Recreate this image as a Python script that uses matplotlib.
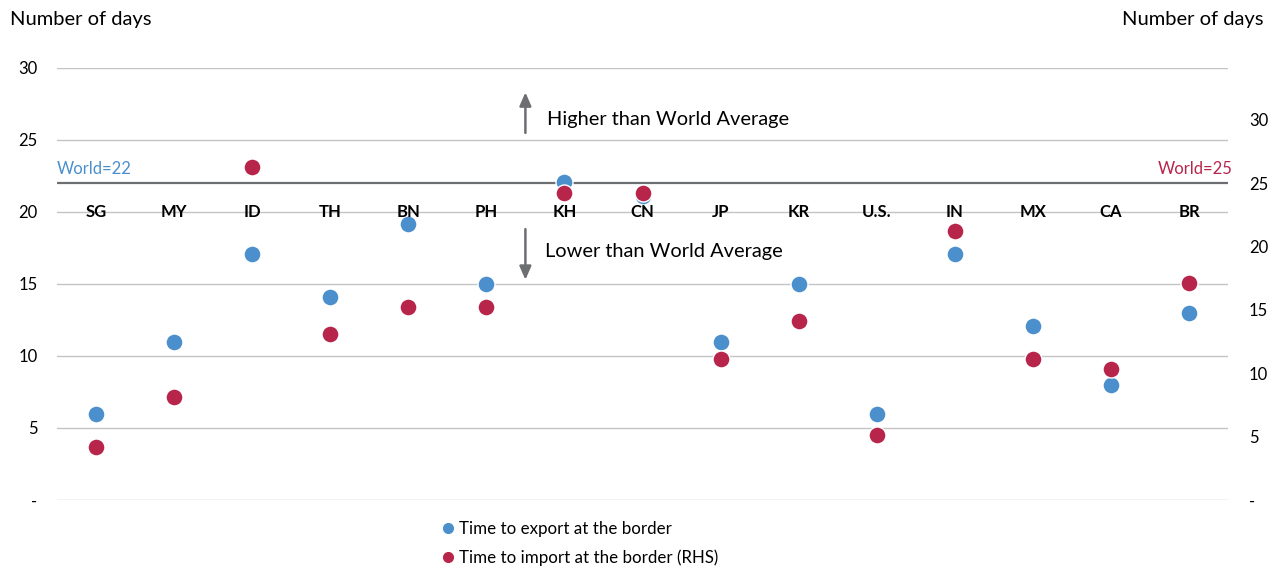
import numpy as np
import matplotlib
matplotlib.use("Agg")
import matplotlib.pyplot as plt
from matplotlib.lines import Line2D

plt.rcParams["font.family"] = ["Lato", "DejaVu Sans"]

countries = ["SG", "MY", "ID", "TH", "BN", "PH", "KH", "CN", "JP", "KR", "U.S.", "IN", "MX", "CA", "BR"]
export_days = [6, 11, 17.1, 14.1, 19.2, 15, 22.1, 21.1, 11, 15, 6, 17.1, 12.1, 8, 13]
import_days = [4.2, 8.1, 26.3, 13.1, 15.2, 15.2, 24.2, 24.2, 11.1, 14.1, 5.1, 21.2, 11.1, 10.3, 17.1]
world_export = 22
world_import = 25

left_ticks = [0, 5, 10, 15, 20, 25, 30]
right_ticks = [0, 5, 10, 15, 20, 25, 30]

BLUE = "#4b8fcd"
RED = "#b8254b"
GREY = "#6d6e71"

W, H = 1279, 569
fig = plt.figure(figsize=(W / 100, H / 100), dpi=100)
ax = fig.add_axes([57 / W, 69 / H, (1228 - 57) / W, (500 - 68) / H])
ax2 = ax.twinx()

x = np.arange(len(countries))

# left axis
ax.set_xlim(-0.5, len(countries) - 0.5)
ax.set_ylim(0, 30)
ax.set_yticks(left_ticks)
ax.set_yticklabels(["-" if t == 0 else str(t) for t in left_ticks], fontsize=12)
ax.set_xticks([])
ax.tick_params(axis="y", length=0, pad=14)
ax.grid(axis="y", color="#c4c4c4", linewidth=1)
ax.set_axisbelow(True)
for s in ax.spines.values():
    s.set_visible(False)

# right axis scaled so both world averages sit on one line
ax2.set_ylim(0, 30 * world_import / world_export)
ax2.set_yticks(right_ticks)
ax2.set_yticklabels(["-" if t == 0 else str(t) for t in right_ticks], fontsize=12)
ax2.tick_params(axis="y", length=0, pad=15)
for s in ax2.spines.values():
    s.set_visible(False)

ax.axhline(world_export, color=GREY, linewidth=1.6, zorder=2)

ax.scatter(x, export_days, s=150, color=BLUE, edgecolor="white", linewidth=1, zorder=3)
ax2.scatter(x, import_days, s=150, color=RED, edgecolor="white", linewidth=1, zorder=3)

for i, c in enumerate(countries):
    ax.text(i, 20, c, ha="center", va="center", fontsize=12, fontweight="bold", zorder=4)

ax.text(-0.5, 23.0, f"World={world_export}", color=BLUE, fontsize=12, ha="left", va="center")
ax.text(1.004, 23.0, f"World={world_import}", color=RED, fontsize=12, ha="right", va="center",
        transform=ax.get_yaxis_transform())

# arrows and notes
ax.annotate("", xy=(5.5, 28.5), xytext=(5.5, 25.3),
            arrowprops=dict(arrowstyle="-|>,head_length=0.8,head_width=0.35", color=GREY, lw=1.8))
ax.annotate("", xy=(5.5, 15.1), xytext=(5.5, 19.0),
            arrowprops=dict(arrowstyle="-|>,head_length=0.8,head_width=0.35", color=GREY, lw=1.8))
ax.text(5.78, 26.45, "Higher than World Average", fontsize=14.4, ha="left", va="center")
ax.text(5.75, 17.25, "Lower than World Average", fontsize=14.4, ha="left", va="center")

fig.text(10 / W, 1 - 20 / H, "Number of days", fontsize=14.5, ha="left", va="center")
fig.text(1264 / W, 1 - 20 / H, "Number of days", fontsize=14.5, ha="right", va="center")

handles = [
    Line2D([], [], marker="o", linestyle="", color=BLUE, markersize=7),
    Line2D([], [], marker="o", linestyle="", color=RED, markersize=7),
]
fig.legend(handles, ["Time to export at the border", "Time to import at the border (RHS)"],
           loc="upper left", bbox_to_anchor=(440 / W, 1 - 521 / H), frameon=False,
           fontsize=12.2, handletextpad=0.1, handlelength=1.0, labelspacing=0.72,
           borderpad=0, borderaxespad=0)

fig.savefig("out.png", dpi=100)
